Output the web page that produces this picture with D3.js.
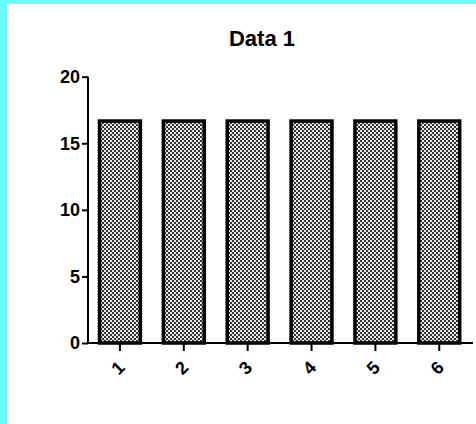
<!DOCTYPE html>
<html>
<head>
<meta charset="utf-8">
<script src="https://cdn.jsdelivr.net/npm/d3@7"></script>
<style>
  html, body { margin: 0; padding: 0; background: #66ffff; }
  svg { display: block; }
</style>
</head>
<body>
<script>
// Chart data
const categories = ["1", "2", "3", "4", "5", "6"];
const values = [16.67, 16.67, 16.67, 16.67, 16.67, 16.67];
const yTicks = [0, 5, 10, 15, 20];
const title = "Data 1";

const W = 476, H = 424;
const svg = d3.select("body").append("svg").attr("width", W).attr("height", H);

// white canvas inside the cyan frame
svg.append("rect").attr("x", 7).attr("y", 4).attr("width", W - 7).attr("height", H - 4).attr("fill", "#fff");

// checkered bar fill
const defs = svg.append("defs");
const pat = defs.append("pattern").attr("id", "checker")
  .attr("patternUnits", "userSpaceOnUse").attr("width", 4).attr("height", 4);
pat.append("rect").attr("width", 4).attr("height", 4).attr("fill", "#e8e8e8");
pat.append("rect").attr("x", 0).attr("y", 0).attr("width", 2).attr("height", 2).attr("fill", "#333");
pat.append("rect").attr("x", 2).attr("y", 2).attr("width", 2).attr("height", 2).attr("fill", "#333");

const x0 = 88, x1 = 471.2, yTop = 76.7, yBot = 343;
const pIn = 0.36;
const x = d3.scaleBand().domain(categories).range([x0, x1]).paddingInner(pIn).paddingOuter(pIn / 2);
const y = d3.scaleLinear().domain([0, 20]).range([yBot, yTop]);

const font = "'Liberation Sans', Arial, Helvetica, sans-serif";

// bars
svg.append("g").selectAll("rect").data(values).join("rect")
  .attr("x", (d, i) => x(categories[i]))
  .attr("y", d => y(d))
  .attr("width", x.bandwidth())
  .attr("height", d => y(0) - y(d))
  .attr("fill", "url(#checker)")
  .attr("stroke", "#000")
  .attr("stroke-width", 3.5);

// y axis
const yAxis = svg.append("g").attr("transform", `translate(${x0},0)`)
  .call(d3.axisLeft(y).tickValues(yTicks).tickSize(6).tickPadding(2).tickFormat(d3.format("d")));
yAxis.select(".domain").attr("stroke", "#000").attr("stroke-width", 2).attr("d", `M0,${yTop}V${yBot}`);
yAxis.selectAll(".tick line").attr("stroke", "#000").attr("stroke-width", 2);
yAxis.selectAll(".tick text").attr("font-family", font).attr("font-weight", "bold")
  .attr("font-size", 18).attr("fill", "#000");

// x axis
const xAxis = svg.append("g").attr("transform", `translate(0,${yBot})`)
  .call(d3.axisBottom(x).tickSize(8).tickSizeOuter(0));
xAxis.select(".domain").attr("stroke", "#000").attr("stroke-width", 2).attr("d", `M${x0},0H473`);
xAxis.selectAll(".tick line").attr("stroke", "#000").attr("stroke-width", 2);
xAxis.selectAll(".tick text")
  .attr("font-family", font).attr("font-weight", "bold").attr("font-size", 18).attr("fill", "#000")
  .attr("text-anchor", "middle").attr("dy", null).attr("y", null)
  .attr("transform", "translate(-2,25) rotate(-45)")
  .attr("dominant-baseline", "central");

// title
svg.append("text").attr("x", 262).attr("y", 46)
  .attr("text-anchor", "middle")
  .attr("font-family", font).attr("font-weight", "bold").attr("font-size", 22)
  .attr("fill", "#000").text(title);
</script>
</body>
</html>
